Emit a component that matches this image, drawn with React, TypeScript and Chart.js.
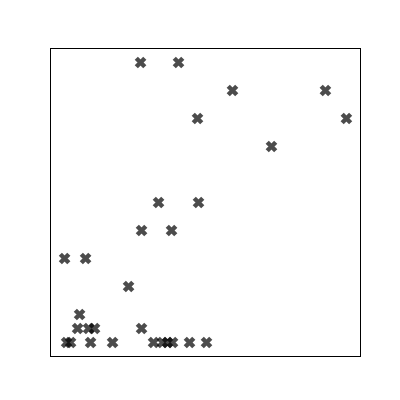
import React, { useEffect, useRef } from "react";
import { Chart, registerables } from "chart.js";

Chart.register(...registerables);

const xValues: number[] = [
  90, 128,
  182, 275,
  147, 296,
  221,
  108, 148,
  91, 121,
  14, 35,
  78,
  29,
  27, 38, 44, 91,
  16, 20, 40, 62, 103, 112, 117, 122, 139, 156,
];
const yValues: number[] = [
  20, 20,
  18, 18,
  16, 16,
  14,
  10, 10,
  8, 8,
  6, 6,
  4,
  2,
  1, 1, 1, 1,
  0, 0, 0, 0, 0, 0, 0, 0, 0, 0,
];

const boxPlugin = {
  id: "boxPlugin",
  afterDraw(chart: any) {
    const { ctx } = chart;
    ctx.save();
    ctx.strokeStyle = "#000";
    ctx.lineWidth = 1;
    ctx.strokeRect(50.5, 48.5, 310, 308);
    ctx.restore();
  },
};

export default function App() {
  const ref = useRef<HTMLCanvasElement>(null);
  useEffect(() => {
    if (!ref.current) return;
    const data = xValues.map((x, i) => ({ x, y: yValues[i] }));
    const chart = new Chart(ref.current, {
      type: "scatter",
      data: {
        datasets: [
          {
            data,
            pointStyle: "crossRot",
            pointRadius: 6,
            pointBorderWidth: 4.5,
            borderColor: "rgba(0,0,0,0.7)",
            backgroundColor: "rgba(0,0,0,0.7)",
          },
        ],
      },
      options: {
        animation: false,
        responsive: false,
        layout: { padding: { left: 50.5, top: 48.5, right: 39.5, bottom: 43.5 } },
        plugins: { legend: { display: false }, tooltip: { enabled: false } },
        scales: {
          x: { type: "linear", display: false, min: -0.1, max: 310.1 },
          y: { type: "linear", display: false, min: -1, max: 21 },
        },
      },
      plugins: [boxPlugin],
    });
    return () => chart.destroy();
  }, []);
  return (
    <div style={{ position: "absolute", left: 0, top: 0, width: 400, height: 400, background: "#fff" }}>
      <canvas ref={ref} width={400} height={400} style={{ width: 400, height: 400 }} />
    </div>
  );
}
